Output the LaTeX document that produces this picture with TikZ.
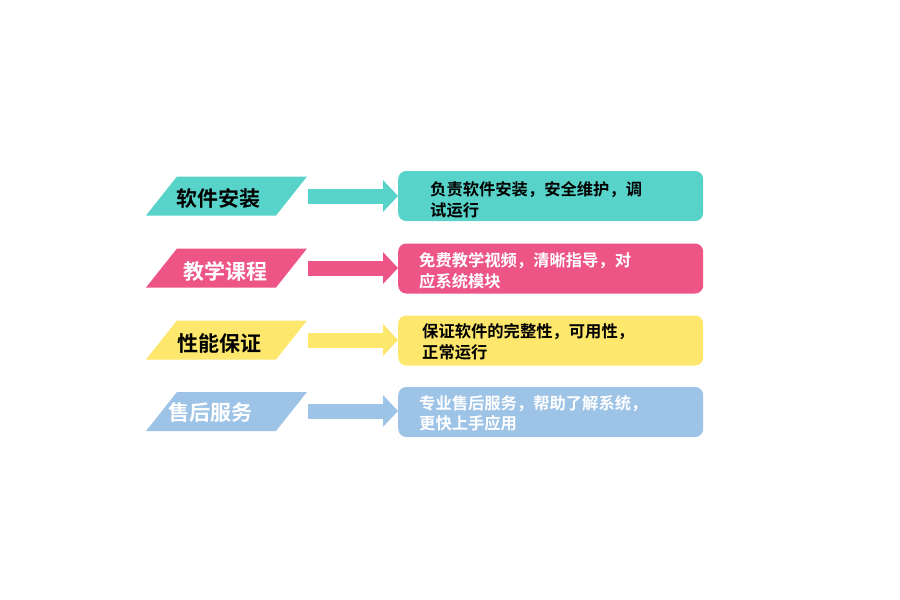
\documentclass[tikz,border=0pt]{standalone}
\usepackage{fontspec}
\newfontfamily\cjk{Noto Sans CJK SC}[BoldFont={Noto Sans CJK SC Bold}]
\usetikzlibrary{arrows.meta}
\definecolor{cteal}{RGB}{87,211,201}
\definecolor{cpink}{RGB}{236,85,134}
\definecolor{cyell}{RGB}{253,231,108}
\definecolor{cblue}{RGB}{157,195,230}
\begin{document}
\begin{tikzpicture}[x=1pt,y=-1pt,
  box/.style={rounded corners=8pt, minimum width=305pt, minimum height=50pt, inner sep=0pt, anchor=west},
  lbl/.style={font=\cjk\bfseries\fontsize{21}{25}\selectfont, inner sep=0pt},
  desc/.style={font=\cjk\bfseries\fontsize{16.3}{20.5}\selectfont, align=left, anchor=west, inner sep=0pt},
  arr/.style={line width=15pt, -{Triangle[length=15pt,width=31pt]}}]
\useasboundingbox (0,0) rectangle (900,600);
% row 1
\fill[cteal] (146,215.5) -- (177,176.5) -- (307,176.5) -- (276,215.5) -- cycle;
\node[lbl, text=black] (l1) at (218,198.5) {软件安装};
\node[box, fill=cteal] (b1) at (398,196) {};
\node[desc, text=black] (d1) at (430,200) {负责软件安装，安全维护，调\\试运行};
\coordinate (a1) at (308,196);
\draw[arr, cteal] (a1) -- (b1.west);
% row 2
\fill[cpink] (146,287.5) -- (177,248.5) -- (307,248.5) -- (276,287.5) -- cycle;
\node[lbl, text=white] (l2) at (225,271) {教学课程};
\node[box, fill=cpink] (b2) at (398,268.5) {};
\node[desc, text=white] (d2) at (419,271) {免费教学视频，清晰指导，对\\应系统模块};
\coordinate (a2) at (308,268);
\draw[arr, cpink] (a2) -- (b2.west |- a2);
% row 3
\fill[cyell] (146,359.5) -- (177,320.5) -- (307,320.5) -- (276,359.5) -- cycle;
\node[lbl, text=black] (l3) at (219,343) {性能保证};
\node[box, fill=cyell] (b3) at (398,340.5) {};
\node[desc, text=black] (d3) at (422,342) {保证软件的完整性，可用性，\\正常运行};
\coordinate (a3) at (308,340);
\draw[arr, cyell] (a3) -- (b3.west |- a3);
% row 4
\fill[cblue] (146,431) -- (177,392) -- (307,392) -- (276,431) -- cycle;
\node[lbl, text=white] (l4) at (210,412.5) {售后服务};
\node[box, fill=cblue] (b4) at (398,412) {};
\node[desc, text=white] (d4) at (419,413.5) {专业售后服务，帮助了解系统，\\更快上手应用};
\coordinate (a4) at (308,411);
\draw[arr, cblue] (a4) -- (b4.west |- a4);
\end{tikzpicture}
\end{document}
